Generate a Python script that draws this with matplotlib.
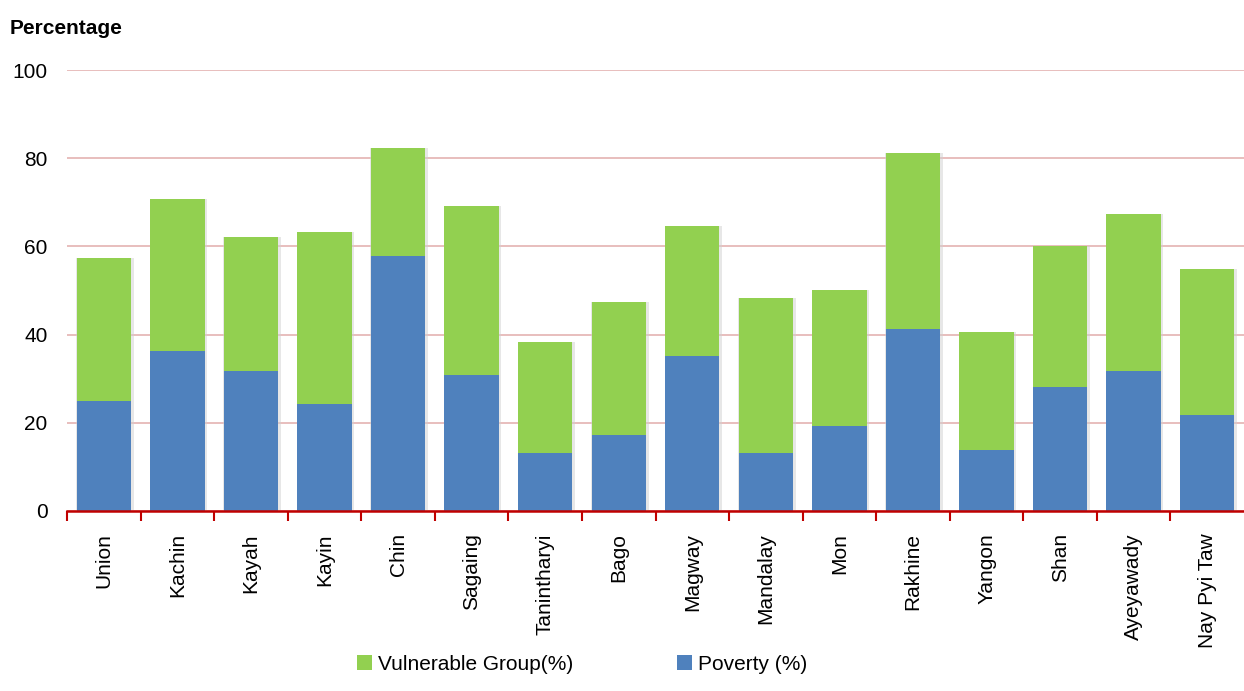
import matplotlib
matplotlib.use("Agg")
import matplotlib.pyplot as plt
import numpy as np

plt.rcParams['font.family'] = ['Liberation Sans Narrow', 'Liberation Sans', 'DejaVu Sans']

regions = ["Union", "Kachin", "Kayah", "Kayin", "Chin", "Sagaing", "Tanintharyi", "Bago",
           "Magway", "Mandalay", "Mon", "Rakhine", "Yangon", "Shan", "Ayeyawady", "Nay Pyi Taw"]
poverty = [24.9, 36.3, 31.7, 24.3, 57.8, 30.8, 13.2, 17.2, 35.1, 13.2, 19.3, 41.3, 13.8, 28.1, 31.7, 21.8]
vulnerable = [32.5, 34.4, 30.4, 39.0, 24.5, 38.4, 25.1, 30.2, 29.5, 35.1, 30.8, 39.9, 26.8, 32.0, 35.6, 33.1]

blue = "#4f81bd"
green = "#92d050"

fig = plt.figure(figsize=(12.44, 6.91), dpi=100)
ax = fig.add_axes([67 / 1244, 1 - 511 / 691, 1 - 67 / 1244, 441 / 691])

x = np.arange(len(regions))
w = 0.74
# soft shadow behind the bars
total = np.array(poverty) + np.array(vulnerable)
ax.bar(x + 0.015, total, width=w + 0.04, color="#d0d0d0", alpha=0.5, zorder=2)
ax.bar(x, poverty, width=w, color=blue, label="Poverty (%)", zorder=3)
ax.bar(x, vulnerable, width=w, bottom=poverty, color=green, label="Vulnerable Group(%)", zorder=3)

ax.set_xlim(-0.5, len(regions) - 0.5)
ax.set_ylim(0, 100)
ax.set_yticks([0, 20, 40, 60, 80, 100])
ax.yaxis.grid(True, color="#e6b9b8", linewidth=1.3, zorder=0)
ax.tick_params(axis='y', length=0, labelsize=15, pad=14)

ax.set_xticks(x)
ax.set_xticklabels(regions, rotation=90, fontsize=15)
ax.tick_params(axis='x', length=0, pad=16)
ax.set_xticks(np.arange(-0.5, len(regions) - 0.5, 1), minor=True)
ax.tick_params(axis='x', which='minor', length=7, width=1.5, color="#c00000", direction='out')

for s in ["top", "right", "left"]:
    ax.spines[s].set_visible(False)
ax.spines["bottom"].set_color("#c00000")
ax.spines["bottom"].set_linewidth(1.8)
ax.spines["bottom"].set_zorder(4)

fig.text(10 / 1244, 1 - 28 / 691, "Percentage", fontsize=15, fontweight='bold', va='center')

handles, labels = ax.get_legend_handles_labels()
fig.legend(handles[::-1], labels[::-1], loc='center', bbox_to_anchor=(0.468, 1 - 664 / 691),
           ncol=2, frameon=False, fontsize=15, handlelength=0.7, handleheight=0.7,
           handletextpad=0.3, columnspacing=5.0)

fig.savefig("out.png", dpi=100)
